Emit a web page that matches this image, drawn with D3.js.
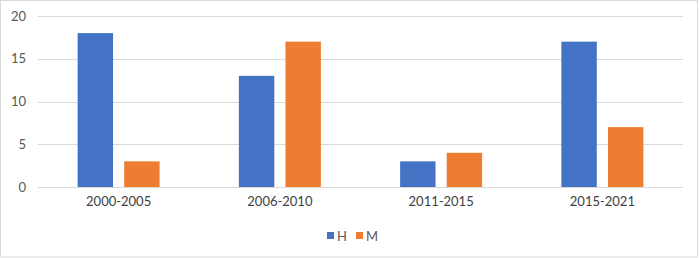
<!DOCTYPE html>
<html>
<head>
<meta charset="utf-8">
<script src="https://cdn.jsdelivr.net/npm/d3@7"></script>
<style>
  body { margin: 0; background: #fff; }
  svg { display: block; font-family: Lato, "Open Sans", sans-serif; }
</style>
</head>
<body>
<div id="chart-area"></div>
<script>
const categories = ["2000-2005", "2006-2010", "2011-2015", "2015-2021"]
const seriesNames = ["H", "M"]
const valuesH = [18, 13, 3, 17]
const valuesM = [3, 17, 4, 7]
const yTicks = [0, 5, 10, 15, 20]

const W = 700, H = 258
const MARGIN = { LEFT: 38, RIGHT: 17, TOP: 16, BOTTOM: 71 }
const WIDTH = W - MARGIN.LEFT - MARGIN.RIGHT
const HEIGHT = H - MARGIN.TOP - MARGIN.BOTTOM

const colors = { H: "#4472C4", M: "#ED7D31" }

const svg = d3.select("#chart-area").append("svg")
  .attr("width", W)
  .attr("height", H)

// outer frame
svg.append("rect")
  .attr("x", 0.5).attr("y", 0.5)
  .attr("width", W - 3).attr("height", H - 1.5)
  .attr("fill", "#fff")
  .attr("stroke", "#d9d9d9")

const g = svg.append("g")
  .attr("transform", `translate(${MARGIN.LEFT}, ${MARGIN.TOP})`)

const x = d3.scaleBand()
  .domain(categories)
  .range([0, WIDTH])

const x1 = d3.scaleBand()
  .domain(seriesNames)
  .range([x.bandwidth() / 2 - 41, x.bandwidth() / 2 + 41])
  .paddingInner(0.24)

const y = d3.scaleLinear()
  .domain([0, 20])
  .range([HEIGHT, 0])

// gridlines
g.append("g")
  .selectAll("line")
  .data(yTicks)
  .enter().append("line")
  .attr("x1", 0).attr("x2", WIDTH)
  .attr("y1", d => Math.round(y(d)) + 0.5)
  .attr("y2", d => Math.round(y(d)) + 0.5)
  .attr("stroke", "#d9d9d9")
  .attr("stroke-width", 1)

// y axis labels
const yAxisCall = d3.axisLeft(y).tickValues(yTicks).tickSize(0).tickPadding(12)
const yAxis = g.append("g").call(yAxisCall)
yAxis.select(".domain").remove()
yAxis.selectAll("text")
  .attr("font-size", "13px")
  .attr("fill", "#595959")
  .attr("font-family", "Lato, sans-serif")

// x axis labels
const xAxisCall = d3.axisBottom(x).tickSize(0).tickPadding(10)
const xAxis = g.append("g")
  .attr("transform", `translate(0, ${HEIGHT})`)
  .call(xAxisCall)
xAxis.select(".domain").remove()
xAxis.selectAll("text")
  .attr("font-size", "13px")
  .attr("fill", "#404040")
  .attr("font-family", "Lato, sans-serif")

// bars
const data = categories.map((c, i) => ({ cat: c, H: valuesH[i], M: valuesM[i] }))

const groups = g.selectAll("g.group")
  .data(data)
  .enter().append("g")
  .attr("class", "group")
  .attr("transform", d => `translate(${x(d.cat)}, 0)`)

groups.selectAll("rect")
  .data(d => seriesNames.map(s => ({ key: s, value: d[s] })))
  .enter().append("rect")
  .attr("x", d => x1(d.key))
  .attr("width", x1.bandwidth())
  .attr("y", d => y(d.value))
  .attr("height", d => y(0) - y(d.value))
  .attr("fill", d => colors[d.key])

// legend
const legend = svg.append("g")
  .attr("transform", `translate(327, 236)`)

const legendItems = legend.selectAll("g")
  .data(seriesNames)
  .enter().append("g")
  .attr("transform", (d, i) => `translate(${i * 29}, 0)`)

legendItems.append("rect")
  .attr("x", 0).attr("y", -4)
  .attr("width", 7).attr("height", 7)
  .attr("fill", d => colors[d])

legendItems.append("text")
  .attr("x", 10).attr("y", 0)
  .attr("dy", "0.35em")
  .attr("font-size", "13px")
  .attr("fill", "#595959")
  .text(d => d)
</script>
</body>
</html>
